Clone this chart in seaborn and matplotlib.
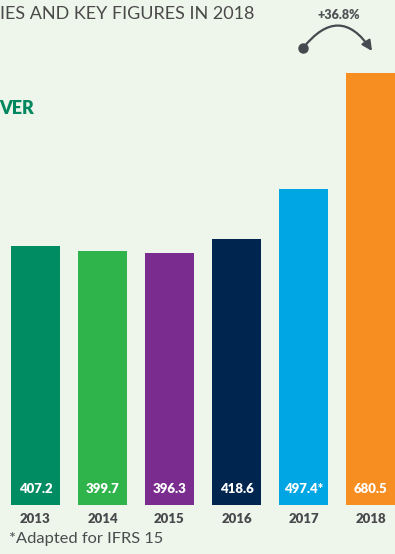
import matplotlib
matplotlib.use('Agg')
import matplotlib.pyplot as plt
import seaborn as sns
import pandas as pd
from matplotlib.patches import FancyArrowPatch
from matplotlib.lines import Line2D

years = ['2013', '2014', '2015', '2016', '2017', '2018']
turnover = [407.2, 399.7, 396.3, 418.6, 497.4, 680.5]
value_labels = ['407.2', '399.7', '396.3', '418.6', '497.4*', '680.5']
colors = ['#008C62', '#2FB44B', '#7A2D8E', '#00264F', '#00A6E3', '#F68E21']
growth = '+36.8%'

bg = '#EEF5EA'
W, H = 395, 554

sns.set_theme(style='white')
plt.rcParams['font.family'] = ['Lato', 'DejaVu Sans']

df = pd.DataFrame({'year': years, 'value': turnover})

fig = plt.figure(figsize=(W / 100, H / 100), dpi=100, facecolor=bg)
ax = fig.add_axes([0, 0, 1, 1], facecolor=bg)

sns.barplot(data=df, x='year', y='value', hue='year', palette=colors,
            legend=False, width=0.731, saturation=1, linewidth=0, ax=ax)

# pixel layout: bar pitch 67px, first centre at 35.5px, baseline at y=505px, 0.635px per unit
px_unit = 0.635
ax.set_xlim(-35.5 / 67, (W - 35.5) / 67)
ax.set_ylim(-(H - 505) / px_unit, 505 / px_unit)
ax.axis('off')

for i, (lab, yr) in enumerate(zip(value_labels, years)):
    ax.text(i, 16 / px_unit, lab, ha='center', va='center', color='white',
            fontsize=9.5, fontweight='heavy')
    ax.text(i, -14 / px_unit, yr, ha='center', va='center', color='#48494d',
            fontsize=9.5, fontweight='heavy')

def fx(x):
    return x / W

def fy(y):
    return 1 - y / H

fig.text(fx(0), fy(14), 'IES AND KEY FIGURES IN 2018', ha='left', va='center',
         color='#4a4a4a', fontsize=13, fontweight='normal')
fig.text(fx(-1), fy(108), 'VER', ha='left', va='center', color='#00875F',
         fontsize=13, fontweight='heavy')
fig.text(fx(9), fy(539), '*Adapted for IFRS 15', ha='left', va='center',
         color='#4a4b4f', fontsize=11.8, fontweight='normal')

fig.text(fx(339), fy(15), growth, ha='center', va='center', color='#505256',
         fontsize=9, fontweight='heavy')
arc = FancyArrowPatch((fx(303), fy(48)), (fx(372), fy(51)), transform=fig.transFigure,
                      connectionstyle='arc3,rad=-0.68', arrowstyle='-|>,head_length=6,head_width=3',
                      color='#454a50', lw=1.6, shrinkA=0, shrinkB=0)
fig.patches.append(arc)
fig.add_artist(Line2D([fx(303)], [fy(48)], marker='o', markersize=6.5, color='#454a50',
                      transform=fig.transFigure))

fig.savefig('out.png', dpi=100, facecolor=bg)
